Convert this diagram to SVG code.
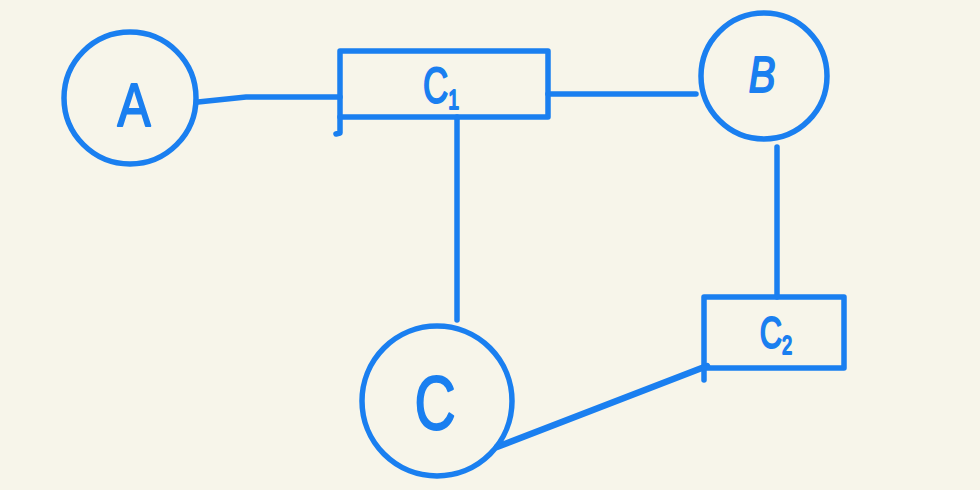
<svg xmlns="http://www.w3.org/2000/svg" width="980" height="490" viewBox="0 0 980 490">
<style>
.shape{fill:none;stroke:#1a7ff0;stroke-width:5.5;stroke-linecap:round;stroke-linejoin:round}
.edge{fill:none;stroke:#1a7ff0;stroke-width:5.5;stroke-linecap:round}
.lbl{fill:#1a7ff0;stroke:#1a7ff0;stroke-width:2;stroke-linejoin:round;font-family:"Liberation Sans","DejaVu Sans",sans-serif;text-anchor:middle}
</style>
<rect width="980" height="490" fill="#f7f5ea"/>
<g id="connectors">
<path class="edge" d="M198,102 L246,97 L340,97"/>
<path class="edge" d="M548,94 L696,94"/>
<path class="edge" d="M457,117 L457,320"/>
<path class="edge" d="M777,147 L777,297"/>
<path class="edge" d="M497,447 L707,366" style="stroke-width:6.5"/>
</g>
<g id="node-A">
<circle class="shape" cx="130" cy="98" r="66"/>
<text class="lbl" x="134" y="126" font-size="62" transform="translate(134 0) scale(0.8 1) translate(-134 0)">A</text>
</g>
<g id="node-C1">
<rect class="shape" x="340" y="51" width="208" height="66"/>
<path class="shape" d="M340,117 L340,133 L336,134"/>
<text class="lbl" x="441" y="103" font-size="50" transform="translate(441 0) scale(0.7 1) translate(-441 0)">C<tspan font-size="28" dy="6">1</tspan></text>
</g>
<g id="node-B">
<circle class="shape" cx="764" cy="76" r="63"/>
<text class="lbl" x="762" y="92" font-size="50" font-style="italic" transform="translate(762 0) scale(0.8 1) translate(-762 0)">B</text>
</g>
<g id="node-C2">
<rect class="shape" x="704" y="297" width="140" height="71"/>
<path class="shape" d="M704,368 L704,380"/>
<text class="lbl" x="776" y="348" font-size="44" transform="translate(776 0) scale(0.7 1) translate(-776 0)">C<tspan font-size="26" dy="6">2</tspan></text>
</g>
<g id="node-C">
<circle class="shape" cx="437" cy="401" r="75"/>
<text class="lbl" x="435" y="429" font-size="76" transform="translate(435 0) scale(0.75 1) translate(-435 0)">C</text>
</g>
</svg>
